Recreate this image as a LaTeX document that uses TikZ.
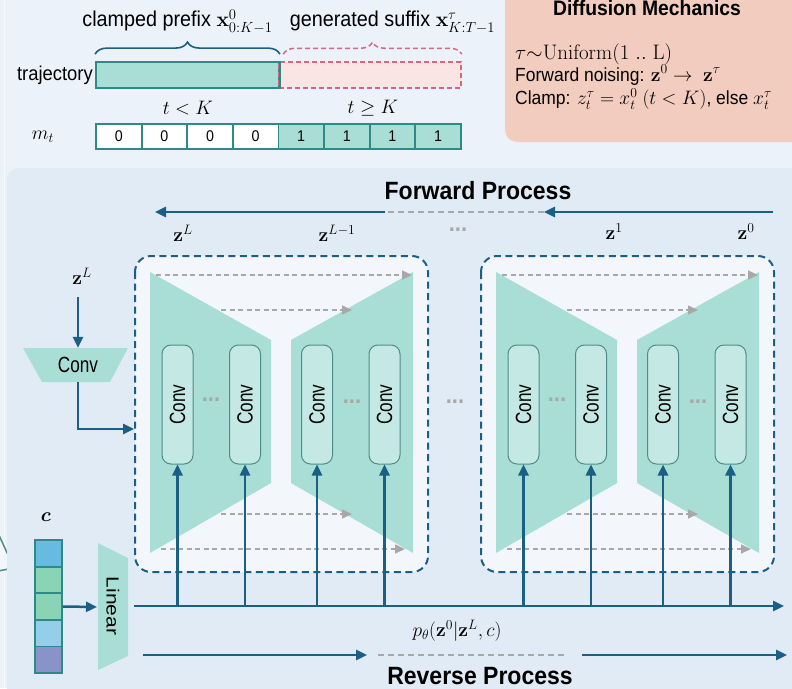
\documentclass[tikz,border=0pt]{standalone}
\usepackage{fix-cm}
\usepackage{amsmath,amssymb}
\usepackage[no-math]{fontspec}
\setmainfont{Liberation Sans}[FakeStretch=0.92]
\newfontfamily\condfont{Liberation Sans}[FakeStretch=0.78]
\newfontfamily\widefont{Liberation Sans}[FakeStretch=1.2]
\usetikzlibrary{arrows.meta,decorations.pathreplacing,calc}
\definecolor{bgout}{HTML}{EBF2FA}
\definecolor{panel}{HTML}{E1EBF6}
\definecolor{blockfill}{HTML}{F3F7FC}
\definecolor{teal1}{HTML}{A8DED6}
\definecolor{convfill}{HTML}{C4E9E4}
\definecolor{convdraw}{HTML}{4F8C89}
\definecolor{dblue}{HTML}{1C5F84}
\definecolor{greyd}{HTML}{A8A8A8}
\definecolor{peach}{HTML}{F2CDBF}
\definecolor{pinkf}{HTML}{FBE4E4}
\definecolor{pinkd}{HTML}{D16B7B}
\definecolor{tealb}{HTML}{2F8A87}
\definecolor{cblue}{HTML}{66BBE0}
\definecolor{cgreen}{HTML}{88D4B4}
\definecolor{clight}{HTML}{94CFEA}
\definecolor{cpurp}{HTML}{8A93C8}
\newcommand{\mth}[1]{{\fontsize{19.5}{22}\selectfont$#1$}}
\newcommand{\mthb}[1]{{\fontsize{21}{23}\selectfont$#1$}}
\tikzset{
  txt/.style={font=\fontsize{19}{22}\selectfont, text=black, inner sep=0pt},
  toptxt/.style={font=\fontsize{21.5}{24}\selectfont, text=black, inner sep=0pt},
  bigtitle/.style={font=\fontsize{25}{28}\selectfont\bfseries, text=black, inner sep=0pt},
  midtitle/.style={font=\fontsize{21}{24}\selectfont\bfseries, text=black, inner sep=0pt},
  barrow/.style={draw=dblue, line width=2.5pt, -{Triangle[length=11pt,width=10pt]}},
  gdash/.style={draw=greyd, line width=1.6pt, dash pattern=on 5pt off 3.5pt, -{Triangle[length=10pt,width=9pt]}},
  gline/.style={draw=greyd, line width=1.8pt, dash pattern=on 6pt off 4pt},
  blockborder/.style={draw=dblue, fill=blockfill, line width=2pt, dash pattern=on 7pt off 4.5pt, rounded corners=16pt},
  convbox/.style={draw=convdraw, fill=convfill, line width=1pt, rounded corners=9pt, minimum width=31pt, minimum height=119pt, inner sep=0pt},
  convtxt/.style={font=\condfont\fontsize{22}{24}\selectfont, text=black, inner sep=0pt},
  lintxt/.style={font=\widefont\fontsize{17.5}{20}\selectfont, text=black, inner sep=0pt},
  dotstxt/.style={font=\fontsize{24}{24}\selectfont\bfseries, text=greyd, inner sep=0pt},
  mcell/.style={draw=tealb, line width=1.8pt, minimum width=45.6pt, minimum height=25pt, inner sep=0pt, font=\fontsize{15.5}{16}\selectfont},
  ccell/.style={draw=tealb, line width=1.8pt, minimum width=27pt, minimum height=26.6pt, inner sep=0pt},
}
\begin{document}
\begin{tikzpicture}[x=1pt,y=-1pt]
\useasboundingbox (0,0) rectangle (792,688);
\fill[bgout] (0,0) rectangle (792,688);
\draw[draw=white!60!bgout, line width=1pt] (4.5,0) -- (4.5,688);
% fragment of a neighbouring shape at the left edge
\draw[draw=convdraw, fill=blockfill, line width=1.5pt] (-2,533) -- (14,568) -- (-2,571);

% ---------- top: trajectory ----------
\node[toptxt, anchor=base] (clab) at (177.5,27) {clamped prefix \mthb{\mathbf{x}^{0}_{0:K-1}}};
\node[toptxt, anchor=base] (glab) at (392.5,27) {generated suffix \mthb{\mathbf{x}^{\tau}_{K:T-1}}};
\node[draw=tealb, fill=teal1, line width=1.8pt, minimum width=183pt, minimum height=26pt, inner sep=0pt] (tp) at (187.5,75) {};
\node[draw=pinkd, fill=pinkf, line width=1.5pt, dash pattern=on 5pt off 3pt, minimum width=182pt, minimum height=26pt, inner sep=0pt] (ts) at (370,75) {};
\draw[draw=tealb, line width=1.8pt] (tp.north east) -- (tp.south east);
\node[txt, anchor=east, font=\fontsize{20}{22}\selectfont] (trajlab) at (93,75) {trajectory};
\draw[draw=dblue, line width=1.6pt, decorate, decoration={brace, amplitude=12pt, aspect=0.5}]
  ([yshift=7pt]tp.north west) -- ([yshift=7pt]tp.north east);
\draw[draw=pinkd, line width=1.5pt, dash pattern=on 5pt off 3pt, decorate, decoration={brace, amplitude=12pt, aspect=0.5}]
  ([yshift=7pt,xshift=5pt]ts.north west) -- ([yshift=7pt]ts.north east);
\node[inner sep=0pt] (tlk) at (188,108) {\mth{t<K}};
\node[inner sep=0pt] (tgk) at (373,108) {\mth{t\geq K}};
\node[inner sep=0pt] (mt) at (43,137) {\mth{m_t}};
\foreach \i/\v in {1/0,2/0,3/0,4/0}{
  \node[mcell, fill=white] (m\i) at ({96+45.6*(\i-0.5)},136.5) {\v};
}
\foreach \i/\v in {5/1,6/1,7/1,8/1}{
  \node[mcell, fill=teal1] (m\i) at ({96+45.6*(\i-0.5)},136.5) {\v};
}

% ---------- Diffusion mechanics box ----------
\fill[peach, rounded corners=12pt] (505,-30) rectangle (830,142);
\node[midtitle, anchor=base] (dmt) at (647,15) {Diffusion Mechanics};
\node[txt, anchor=base west] (dm1) at (515,59) {\mthb{\tau{\sim}\mathrm{Uniform}(1\;..\;\mathrm{L})}};
\node[txt, anchor=base west] (dm2) at (515,81) {Forward noising: \mth{\mathbf{z}^0\rightarrow\ \mathbf{z}^{\tau}}};
\node[txt, anchor=base west] (dm3) at (515,104.5) {Clamp: \mth{z_t^{\tau}=x_t^{0}\ (t<K)}, else \mth{x_t^{\tau}}};

% ---------- main panel ----------
\fill[panel, rounded corners=12pt] (7,168) rectangle (830,720);

% forward process
\node[bigtitle, anchor=base] (fp) at (478,199) {Forward Process};
\coordinate (fpR) at (773,212);
\coordinate (fpM1) at (544,212);
\coordinate (fpM2) at (385,212);
\coordinate (fpL) at (155,212);
\draw[gline] (fpM1) -- (fpM2);
\draw[barrow] (fpR) -- (fpM1);
\draw[barrow] (fpM2) -- (fpL);
\node[inner sep=0pt] (zL) at (183,233) {\mth{\mathbf{z}^{L}}};
\node[inner sep=0pt] (zL1) at (337,233) {\mth{\mathbf{z}^{L-1}}};
\node[dotstxt] (tdots) at (458,230) {...};
\node[inner sep=0pt] (z1) at (614,232) {\mth{\mathbf{z}^{1}}};
\node[inner sep=0pt] (z0) at (746,232) {\mth{\mathbf{z}^{0}}};

% input conv
\node[inner sep=0pt] (zLin) at (82,276) {\mth{\mathbf{z}^{L}}};
\fill[teal1] (23,348) -- (128,348) -- (110,382) -- (42,382) -- cycle;
\node[convtxt, minimum width=68pt, minimum height=34pt] (convin) at (78,365) {Conv};
\coordinate (blkin) at (134,429);
\coordinate (zLstart) at (78,297);
\draw[barrow] (zLstart) -- (convin.north);
\draw[barrow] (convin.south) |- (blkin);

% bus line
\coordinate (busL) at (134,606);
\coordinate (busR) at (784,606);

% ---------- two U-Net blocks ----------
\foreach \b/\dx in {1/0,2/346}{
\begin{scope}[shift={(\dx,0)}]
  \draw[blockborder] (135,256) rectangle (428,572);
  \fill[teal1] (150,272) -- (271,340) -- (271,483) -- (150,553) -- cycle;
  \fill[teal1] (291,340) -- (413,272) -- (413,553) -- (291,483) -- cycle;
  \draw[gdash] (156,275) -- (412,275);
  \draw[gdash] (221,310) -- (352,310);
  \draw[gdash] (221,514) -- (352,514);
  \draw[gdash] (161,549) -- (405,549);
  \node[convbox] (c\b a) at (177.5,404.5) {};
  \node[convbox] (c\b b) at (245,404.5) {};
  \node[convbox] (c\b c) at (317,404.5) {};
  \node[convbox] (c\b d) at (384.5,404.5) {};
  \foreach \k in {a,b,c,d}{
    \node[convtxt, rotate=90] at (c\b\k) {Conv};
  }
  \node[dotstxt] (d\b a) at (211,400) {...};
  \node[dotstxt] (d\b b) at (352,402) {...};
\end{scope}
}
\node[dotstxt] (middots) at (455,402) {...};

\draw[barrow] (busL) -- (busR);
\foreach \b in {1,2}{
  \foreach \k in {a,b,c,d}{
    \draw[barrow] (c\b\k.south |- busL) -- (c\b\k.south);
  }
}

% ---------- condition c ----------
\node[inner sep=0pt] (clabel) at (46,517) {\mth{\boldsymbol{c}}};
\node[ccell, fill=cblue] (c1) at (48.5,553.3) {};
\node[ccell, fill=cgreen] (c2) at (48.5,579.9) {};
\node[ccell, fill=cgreen] (c3) at (48.5,606.5) {};
\node[ccell, fill=clight] (c4) at (48.5,633.1) {};
\node[ccell, fill=cpurp] (c5) at (48.5,659.7) {};
\fill[teal1] (98,543) -- (128,558) -- (128,656) -- (98,670) -- cycle;
\node[lintxt, rotate=-90] (lin) at (113,606) {Linear};
\coordinate (linW) at (97,607);
\draw[barrow] (c3.east) -- (linW);

% ---------- reverse process ----------
\node[inner sep=0pt] (ptheta) at (457,631) {\mth{p_{\theta}(\mathbf{z}^0|\mathbf{z}^L,c)}};
\coordinate (rp1) at (143,655);
\coordinate (rp2) at (367,655);
\coordinate (rp3) at (378,655);
\coordinate (rp4) at (567,655);
\coordinate (rp5) at (582,655);
\coordinate (rp6) at (787,655);
\draw[barrow] (rp1) -- (rp2);
\draw[gline] (rp3) -- (rp4);
\draw[barrow] (rp5) -- (rp6);
\node[bigtitle, anchor=base] (rp) at (480,684) {Reverse Process};
\end{tikzpicture}
\end{document}
